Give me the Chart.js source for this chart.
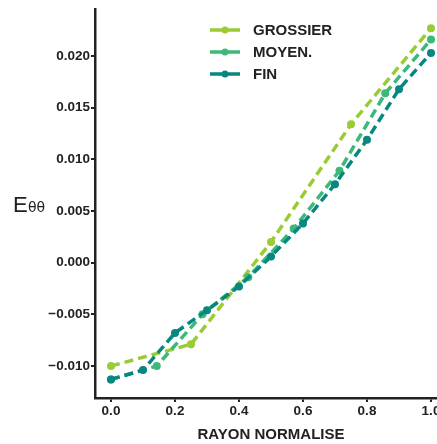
<!DOCTYPE html>
<html lang="fr">
<head>
  <meta charset="UTF-8">
  <title>E theta theta</title>
  <style>
    body {
      margin: 0;
      overflow: hidden;
      background: #fff;
    }
    #wrap {
      position: absolute;
      left: 0;
      top: 0;
      width: 460px;
      height: 444px;
    }
  </style>
  <script src="https://cdn.jsdelivr.net/npm/chart.js"></script>
</head>
<body>
  <div id="wrap">
    <canvas id="chart" width="460" height="444"></canvas>
  </div>

  <script>
    // values
    const xGrossier = [0, 0.25, 0.5, 0.75, 1.0];
    const yGrossier = [-0.0100, -0.0079, 0.0020, 0.0134, 0.0227];

    const xMoyen = [0, 0.143, 0.286, 0.429, 0.571, 0.714, 0.857, 1.0];
    const yMoyen = [-0.0113, -0.0100, -0.0050, -0.0014, 0.0033, 0.0089, 0.0164, 0.0216];

    const xFin = [0, 0.1, 0.2, 0.3, 0.4, 0.5, 0.6, 0.7, 0.8, 0.9, 1.0];
    const yFin = [-0.0113, -0.0104, -0.0068, -0.0046, -0.0023, 0.0006, 0.0038, 0.0076, 0.0119, 0.0168, 0.0203];

    const seriesNames = ['GROSSIER', 'MOYEN.', 'FIN'];
    const seriesColors = ['#99cc33', '#3cb878', '#06877f'];

    const xTicks = [0, 0.2, 0.4, 0.6, 0.8, 1.0];
    const yTicks = [-0.010, -0.005, 0.000, 0.005, 0.010, 0.015, 0.020];

    const ink = '#222';

    function pairs(xs, ys) {
      return xs.map((x, i) => ({ x: x, y: ys[i] }));
    }

    function makeSet(i, xs, ys) {
      return {
        label: seriesNames[i],
        data: pairs(xs, ys),
        borderColor: seriesColors[i],
        backgroundColor: seriesColors[i],
        borderWidth: 3.5,
        borderDash: [9, 5],
        pointRadius: 4,
        pointBorderWidth: 0,
        pointBackgroundColor: seriesColors[i],
        fill: false,
        tension: 0,
        order: 3 - i
      };
    }

    // legend + y label drawn by hand (line with a dot in it)
    const extras = {
      id: 'extras',
      afterDraw(chart) {
        const c = chart.ctx;
        c.save();
        seriesNames.forEach((name, i) => {
          const y = 30 + i * 22;
          c.strokeStyle = seriesColors[i];
          c.lineWidth = 3.5;
          c.setLineDash([]);
          c.beginPath();
          c.moveTo(210, y);
          c.lineTo(240, y);
          c.stroke();
          c.fillStyle = seriesColors[i];
          c.beginPath();
          c.arc(225, y, 3.5, 0, Math.PI * 2);
          c.fill();
          c.fillStyle = ink;
          c.font = 'bold 15px "Liberation Sans", Arial, sans-serif';
          c.textBaseline = 'middle';
          c.textAlign = 'left';
          c.fillText(name, 253, y + 1);
        });
        // y axis title: E with theta theta
        c.fillStyle = ink;
        c.textBaseline = 'alphabetic';
        c.font = '22px "Liberation Sans", Arial, sans-serif';
        c.fillText('E', 13, 212);
        c.font = '14px "DejaVu Sans", sans-serif';
        c.fillText('θθ', 28, 212);
        c.restore();
      }
    };

    const ctx = document.getElementById('chart').getContext('2d');

    const chart = new Chart(ctx, {
      type: 'line',
      data: {
        datasets: [
          makeSet(0, xGrossier, yGrossier),
          makeSet(1, xMoyen, yMoyen),
          makeSet(2, xFin, yFin)
        ]
      },
      options: {
        responsive: false,
        animation: false,
        devicePixelRatio: 1,
        layout: {
          padding: { top: 8, right: 13, left: 0, bottom: 0 }
        },
        plugins: {
          legend: { display: false },
          tooltip: { enabled: false }
        },
        scales: {
          x: {
            type: 'linear',
            min: -0.05,
            max: 1.05,
            afterBuildTicks: (s) => { s.ticks = xTicks.map(v => ({ value: v })); },
            afterFit: (s) => { s.height = 46; },
            border: { display: true, color: ink, width: 2.5 },
            grid: { display: true, drawOnChartArea: false, drawTicks: true, tickLength: 4, color: ink, lineWidth: 2 },
            ticks: {
              color: ink,
              padding: 1,
              maxRotation: 0,
              font: { family: '"Liberation Sans", Arial, sans-serif', size: 13.5, weight: 'bold' },
              callback: (v) => Number(v).toFixed(1)
            },
            title: {
              display: true,
              text: 'RAYON NORMALISE',
              color: ink,
              padding: { top: 4, bottom: 0 },
              font: { family: '"Liberation Sans", Arial, sans-serif', size: 15, weight: 'bold' }
            }
          },
          y: {
            type: 'linear',
            min: -0.0131,
            max: 0.02455,
            afterBuildTicks: (s) => { s.ticks = yTicks.map(v => ({ value: v })); },
            afterFit: (s) => { s.width = 95; },
            border: { display: true, color: ink, width: 2.5 },
            grid: { display: true, drawOnChartArea: false, drawTicks: true, tickLength: 4, color: ink, lineWidth: 2 },
            ticks: {
              color: ink,
              padding: 1,
              font: { family: '"Liberation Sans", Arial, sans-serif', size: 13.5, weight: 'bold' },
              callback: (v) => Number(v).toFixed(3).replace('-', '\u2212')
            }
          }
        }
      },
      plugins: [extras]
    });
  </script>
</body>
</html>
